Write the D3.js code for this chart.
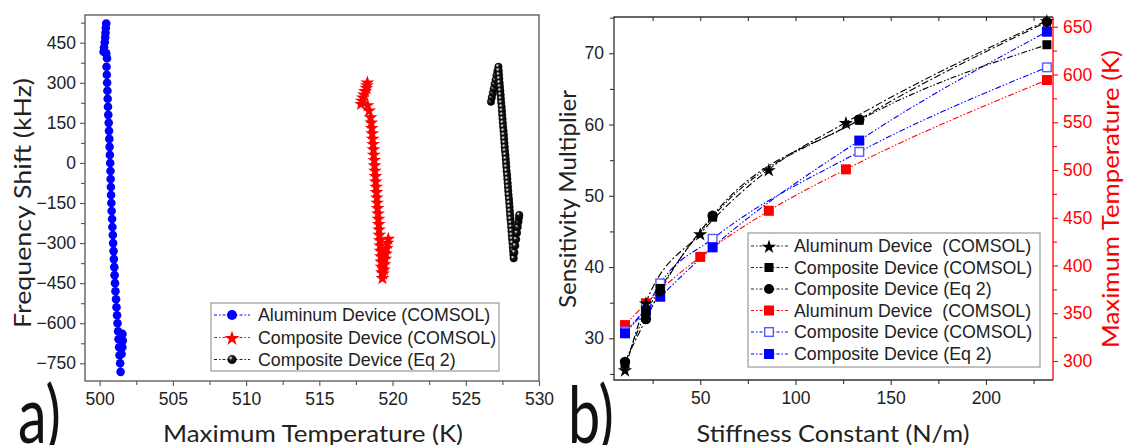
<!DOCTYPE html>
<html><head><meta charset="utf-8">
<script src="https://cdn.jsdelivr.net/npm/d3@7"></script>
<style>body{margin:0;background:#fff}svg{display:block}</style>
</head><body>
<svg id="c" width="1124" height="445"></svg>
<script>
// ---------- Panel a) data ----------
const aXTicks = [500, 505, 510, 515, 520, 525, 530];
const aYTicks = [450, 300, 150, 0, -150, -300, -450, -600, -750];
const alTemp = [500.45, 500.42, 500.40, 500.38, 500.35, 500.30, 500.27, 500.45, 500.50,
  500.47, 500.49, 500.51, 500.53, 500.55, 500.57, 500.59, 500.62, 500.64, 500.66,
  500.68, 500.70, 500.72, 500.74, 500.75, 500.77, 500.78, 500.80, 500.82, 500.85,
  500.87, 500.90, 500.92, 500.95, 500.97, 501.00, 501.02, 501.05, 501.08, 501.12,
  501.15, 501.19, 501.22, 501.26, 501.29, 501.33, 501.36, 501.40, 501.43,
  501.50, 501.55, 501.58, 501.56];
const alFreq = [522, 505, 487, 470, 452, 432, 416, 410, 392,
  360, 330, 300, 270, 240, 210, 180, 150, 120, 90,
  60, 30, 0, -30, -60, -90, -120, -150, -180, -210,
  -240, -270, -300, -330, -360, -390, -420, -450, -480, -510,
  -540, -570, -600, -630, -660, -690, -720, -750, -782,
  -715, -690, -665, -640];
const compTemp = [518.28, 518.25, 518.22, 518.12, 518.05, 517.97, 517.90, 517.85, 518.30, 518.40,
  518.50, 518.55, 518.58, 518.61, 518.64, 518.67, 518.70, 518.72, 518.75, 518.77,
  518.80, 518.83, 518.85, 518.88, 518.90, 518.93, 518.95, 518.98, 519.01, 519.03,
  519.06, 519.08, 519.10, 519.13, 519.15, 519.18, 519.20, 519.23, 519.25, 519.28,
  519.31, 519.36, 519.40, 519.45, 519.50, 519.55, 519.60, 519.66, 519.71];
const compFreq = [300, 290, 280, 268, 255, 244, 232, 220, 215, 195,
  170, 150, 130, 110, 90, 70, 50, 30, 10, -10,
  -30, -50, -70, -90, -110, -130, -150, -170, -190, -210,
  -230, -250, -270, -290, -310, -330, -350, -370, -390, -410,
  -432, -415, -400, -380, -360, -340, -320, -300, -285];
const eqTemp = [526.72, 526.78, 526.85, 526.91, 526.97, 527.04, 527.10, 527.16,
  527.23, 527.25, 527.27, 527.29, 527.31, 527.34, 527.36, 527.38, 527.40, 527.42,
  527.45, 527.47, 527.49, 527.51, 527.53, 527.55, 527.58, 527.60, 527.62, 527.64,
  527.66, 527.68, 527.71, 527.73, 527.75, 527.77, 527.79, 527.82, 527.84, 527.86,
  527.88, 527.90, 527.92, 527.95, 527.97, 527.99, 528.01, 528.03, 528.05, 528.08,
  528.10, 528.12, 528.14, 528.16, 528.19, 528.21, 528.23, 528.25, 528.27,
  528.32, 528.38, 528.44, 528.50, 528.55, 528.60, 528.63, 528.65];
const eqFreq = [229, 245, 262, 278, 295, 311, 328, 344,
  360, 345, 330, 315, 300, 285, 270, 255, 240, 225,
  210, 195, 180, 165, 150, 135, 120, 105, 90, 75,
  60, 45, 30, 15, 0, -15, -30, -45, -60, -75,
  -90, -105, -120, -135, -150, -165, -180, -195, -210, -225,
  -240, -255, -270, -285, -300, -315, -330, -345, -357,
  -335, -310, -286, -262, -240, -220, -205, -195];
const aLegend = ["Aluminum Device (COMSOL)", "Composite Device (COMSOL)", "Composite Device (Eq 2)"];

// ---------- Panel b) data ----------
const bXTicks = [50, 100, 150, 200];
const bYTicks = [30, 40, 50, 60, 70];
const bY2Ticks = [300, 350, 400, 450, 500, 550, 600, 650];
const stiffAl = [10.5, 21.5, 50, 86, 126.5, 232];
const stiffComp = [10.5, 21.5, 29, 56.5, 133.5, 232];
const sensAlComsol = [25.6, 35.0, 44.7, 53.7, 60.3, 74.6];
const sensCompComsol = [26.4, 33.6, 37.0, 47.0, 60.6, 71.2];
const sensCompEq2 = [26.7, 32.7, 36.6, 47.2, 60.7, 74.4];
const tempAlComsol = [337.6, 360.4, 409, 457.3, 500.7, 594.2];
const tempCompComsol = [331, 356, 381.3, 428, 519, 607.5];
const tempCompEq2 = [329, 352.8, 367.3, 419, 530.8, 644.8];
const bLegend = ["Aluminum Device  (COMSOL)", "Composite Device (COMSOL)", "Composite Device (Eq 2)",
  "Aluminum Device  (COMSOL)", "Composite Device (COMSOL)", "Composite Device (Eq 2)"];

const svg = d3.select("#c");
const TICKFONT = "'Liberation Sans', Arial, sans-serif";
const TITLEFONT = "Lato, 'Open Sans', sans-serif";
const BLUE = "#0000ff", RED = "#ff0000";

const defs = svg.append("defs");
const g = defs.append("radialGradient").attr("id", "ball").attr("cx", "35%").attr("cy", "32%").attr("r", "62%");
g.append("stop").attr("offset", "0%").attr("stop-color", "#ffffff");
g.append("stop").attr("offset", "14%").attr("stop-color", "#b0b0b0");
g.append("stop").attr("offset", "38%").attr("stop-color", "#1e1e1e");
g.append("stop").attr("offset", "100%").attr("stop-color", "#000");

function styleAxis(sel, color) {
  sel.select(".domain").remove();
  sel.selectAll(".tick line").attr("stroke", color).attr("stroke-width", 1.1);
  sel.selectAll(".tick text").attr("fill", color === "#333" || color === "#555" ? "#222" : color)
    .style("font-family", TICKFONT).style("font-size", "17.5px");
}
function range(a, b, s) { return d3.range(a, b + s / 2, s); }

// ================= Panel a =================
const xA = d3.scaleLinear().domain([499, 530]).range([85, 539]);
const yA = d3.scaleLinear().domain([-816.2, 553.7]).range([381, 15]);

let ax = svg.append("g").attr("transform", "translate(0,381)")
  .call(d3.axisBottom(xA).tickValues(range(502.5, 527.5, 5)).tickSize(4).tickFormat(""));
styleAxis(ax, "#555");
ax = svg.append("g").attr("transform", "translate(0,381)")
  .call(d3.axisBottom(xA).tickValues(aXTicks).tickSize(5).tickPadding(7).tickFormat(d3.format("d")));
styleAxis(ax, "#555");
ax = svg.append("g").attr("transform", "translate(85,0)")
  .call(d3.axisLeft(yA).tickValues(range(-675, 525, 150)).tickSize(4).tickFormat(""));
styleAxis(ax, "#555");
ax = svg.append("g").attr("transform", "translate(85,0)")
  .call(d3.axisLeft(yA).tickValues(aYTicks).tickSize(5).tickPadding(4).tickFormat(d3.format("d")));
styleAxis(ax, "#555");
svg.append("rect").attr("x", 85).attr("y", 15).attr("width", 454).attr("height", 366)
  .attr("fill", "none").attr("stroke", "#555").attr("stroke-width", 1.3);

const clipA = defs.append("clipPath").attr("id", "clipA");
clipA.append("rect").attr("x", 85).attr("y", 15).attr("width", 454).attr("height", 366);
const pa = svg.append("g").attr("clip-path", "url(#clipA)");

const DASH2 = "6,2,1.5,2,1.5,2";
const lineA = d3.line().x(d => xA(d[0])).y(d => yA(d[1]));
const alPts = d3.zip(alTemp, alFreq), compPts = d3.zip(compTemp, compFreq), eqPts = d3.zip(eqTemp, eqFreq);
pa.append("path").attr("d", lineA(alPts)).attr("fill", "none").attr("stroke", BLUE).attr("stroke-dasharray", DASH2);
pa.append("path").attr("d", lineA(compPts)).attr("fill", "none").attr("stroke", RED).attr("stroke-dasharray", DASH2);
pa.append("path").attr("d", lineA(eqPts)).attr("fill", "none").attr("stroke", "#000").attr("stroke-dasharray", DASH2);

const starA = d3.symbol(d3.symbolStar, 60)();
const starB = d3.symbol(d3.symbolStar, 62)();

pa.selectAll(".al").data(alPts).join("circle").attr("cx", d => xA(d[0])).attr("cy", d => yA(d[1]))
  .attr("r", 4.3).attr("fill", BLUE);
pa.selectAll(".cp").data(compPts).join("path").attr("d", starA)
  .attr("transform", d => `translate(${xA(d[0])},${yA(d[1])})`).attr("fill", RED);
pa.selectAll(".eq").data(eqPts).join("circle").attr("cx", d => xA(d[0])).attr("cy", d => yA(d[1]))
  .attr("r", 3.7).attr("fill", "url(#ball)").attr("stroke", "#000").attr("stroke-width", 0.6);

// legend a
svg.append("rect").attr("x", 211).attr("y", 303).attr("width", 288).attr("height", 68)
  .attr("fill", "#fff").attr("stroke", "#999").attr("stroke-width", 1.2);
const aRows = [315, 337.5, 359.5];
const aColors = [BLUE, RED, "#222"];
aLegend.forEach((t, i) => {
  const y = aRows[i];
  svg.append("line").attr("x1", 214).attr("x2", 250).attr("y1", y).attr("y2", y)
    .attr("stroke", aColors[i]).attr("stroke-width", 1).attr("stroke-dasharray", "3,2,1.5,2");
  if (i === 0) svg.append("circle").attr("cx", 232).attr("cy", y).attr("r", 5).attr("fill", BLUE);
  if (i === 1) svg.append("path").attr("d", d3.symbol(d3.symbolStar, 70)()).attr("transform", `translate(232,${y + 1})`).attr("fill", RED);
  if (i === 2) svg.append("circle").attr("cx", 232).attr("cy", y).attr("r", 4.3).attr("fill", "url(#ball)").attr("stroke", "#000").attr("stroke-width", 0.5);
  svg.append("text").attr("x", 258).attr("y", y + 6.3).text(t)
    .style("font-family", TICKFONT).style("font-size", "17.8px").attr("fill", "#222");
});

// titles a
svg.append("text").attr("transform", "translate(31,203) rotate(-90)").attr("text-anchor", "middle")
  .attr("textLength", 250).attr("lengthAdjust", "spacingAndGlyphs")
  .style("font-family", TITLEFONT).style("font-size", "24px").attr("fill", "#222").text("Frequency Shift (kHz)");
svg.append("text").attr("x", 313).attr("y", 442).attr("text-anchor", "middle")
  .attr("textLength", 300).attr("lengthAdjust", "spacingAndGlyphs")
  .style("font-family", TITLEFONT).style("font-size", "24px").attr("fill", "#222").text("Maximum Temperature (K)");
svg.append("text").attr("transform", "translate(18,443) scale(0.72,1)")
  .style("font-family", TITLEFONT).style("font-size", "80px").attr("fill", "#111").text("a)");

// ================= Panel b =================
const xB = d3.scaleLinear().domain([4.72, 235.2]).range([614, 1053]);
const yB = d3.scaleLinear().domain([24.15, 75.09]).range([380, 17]);
const yB2 = d3.scaleLinear().domain([280.1, 660.2]).range([380, 17]);

ax = svg.append("g").attr("transform", "translate(0,380)")
  .call(d3.axisBottom(xB).tickValues([25, 75, 125, 175, 225]).tickSize(4).tickFormat(""));
styleAxis(ax, "#333");
ax = svg.append("g").attr("transform", "translate(0,380)")
  .call(d3.axisBottom(xB).tickValues(bXTicks).tickSize(5).tickPadding(7).tickFormat(d3.format("d")));
styleAxis(ax, "#333");
ax = svg.append("g").attr("transform", "translate(0,17)")
  .call(d3.axisBottom(xB).tickValues([25, 50, 75, 100, 125, 150, 175, 200, 225]).tickSize(4).tickFormat(""));
styleAxis(ax, "#333");
ax = svg.append("g").attr("transform", "translate(614,0)")
  .call(d3.axisLeft(yB).tickValues([25, 35, 45, 55, 65, 75]).tickSize(4).tickFormat(""));
styleAxis(ax, "#333");
ax = svg.append("g").attr("transform", "translate(614,0)")
  .call(d3.axisLeft(yB).tickValues(bYTicks).tickSize(5).tickPadding(5).tickFormat(d3.format("d")));
styleAxis(ax, "#333");
ax = svg.append("g").attr("transform", "translate(1053,0)")
  .call(d3.axisRight(yB2).tickValues(range(325, 625, 50)).tickSize(4).tickFormat(""));
styleAxis(ax, RED);
ax = svg.append("g").attr("transform", "translate(1053,0)")
  .call(d3.axisRight(yB2).tickValues(bY2Ticks).tickSize(5).tickPadding(5).tickFormat(d3.format("d")));
styleAxis(ax, RED);

svg.append("path").attr("d", "M1053,17H614V380H1053").attr("fill", "none").attr("stroke", "#333").attr("stroke-width", 1.3);
svg.append("line").attr("x1", 1053).attr("x2", 1053).attr("y1", 17).attr("y2", 380).attr("stroke", RED).attr("stroke-width", 1.3);

const pb = svg.append("g");
const curve = d3.curveMonotoneX;
const lineS = (xs, ys, sc) => d3.line().curve(curve).x(d => xB(d[0])).y(d => sc(d[1]))(d3.zip(xs, ys));
const DASH1 = "7,2.5,2,2.5";
pb.append("path").attr("d", lineS(stiffAl, tempAlComsol, yB2)).attr("fill", "none").attr("stroke", RED).attr("stroke-width", 1.1).attr("stroke-dasharray", DASH2);
pb.append("path").attr("d", lineS(stiffComp, tempCompComsol, yB2)).attr("fill", "none").attr("stroke", BLUE).attr("stroke-width", 1.1).attr("stroke-dasharray", DASH2);
pb.append("path").attr("d", lineS(stiffComp, tempCompEq2, yB2)).attr("fill", "none").attr("stroke", BLUE).attr("stroke-width", 1.1).attr("stroke-dasharray", DASH2);
pb.append("path").attr("d", lineS(stiffComp, sensCompComsol, yB)).attr("fill", "none").attr("stroke", "#000").attr("stroke-width", 1.1).attr("stroke-dasharray", DASH2);
pb.append("path").attr("d", lineS(stiffComp, sensCompEq2, yB)).attr("fill", "none").attr("stroke", "#000").attr("stroke-width", 1.1).attr("stroke-dasharray", DASH1);
pb.append("path").attr("d", lineS(stiffAl, sensAlComsol, yB)).attr("fill", "none").attr("stroke", "#000").attr("stroke-width", 1.1).attr("stroke-dasharray", DASH1);

const sq = 10;
pb.selectAll(".rs").data(d3.zip(stiffAl, tempAlComsol)).join("rect")
  .attr("x", d => xB(d[0]) - sq / 2).attr("y", d => yB2(d[1]) - sq / 2).attr("width", sq).attr("height", sq).attr("fill", RED);
pb.selectAll(".bo").data(d3.zip(stiffComp, tempCompComsol)).join("rect")
  .attr("x", d => xB(d[0]) - 4.3).attr("y", d => yB2(d[1]) - 4.3).attr("width", 8.6).attr("height", 8.6)
  .attr("fill", "#fff").attr("stroke", "#5a5aff").attr("stroke-width", 1.4);
pb.selectAll(".bf").data(d3.zip(stiffComp, tempCompEq2)).join("rect")
  .attr("x", d => xB(d[0]) - sq / 2).attr("y", d => yB2(d[1]) - sq / 2).attr("width", sq).attr("height", sq).attr("fill", BLUE);
pb.selectAll(".ks").data(d3.zip(stiffComp, sensCompComsol)).join("rect")
  .attr("x", d => xB(d[0]) - 4.5).attr("y", d => yB(d[1]) - 4.5).attr("width", 9).attr("height", 9).attr("fill", "#000");
pb.selectAll(".kc").data(d3.zip(stiffComp, sensCompEq2)).join("circle")
  .attr("cx", d => xB(d[0])).attr("cy", d => yB(d[1])).attr("r", 5.2).attr("fill", "#000");
pb.selectAll(".kst").data(d3.zip(stiffAl, sensAlComsol)).join("path").attr("d", starB)
  .attr("transform", d => `translate(${xB(d[0])},${yB(d[1]) + 1})`).attr("fill", "#000");

// legend b
svg.append("rect").attr("x", 748).attr("y", 233).attr("width", 292).attr("height", 134)
  .attr("fill", "#fff").attr("stroke", "#999").attr("stroke-width", 1.2);
const bRows = [246, 267.5, 289, 310.5, 332, 354];
const bColors = ["#222", "#222", "#222", RED, BLUE, BLUE];
bLegend.forEach((t, i) => {
  const y = bRows[i];
  svg.append("line").attr("x1", 751).attr("x2", 788).attr("y1", y).attr("y2", y)
    .attr("stroke", bColors[i]).attr("stroke-width", 1).attr("stroke-dasharray", "3,2,1.5,2");
  const cx = 769;
  if (i === 0) svg.append("path").attr("d", starB).attr("transform", `translate(${cx},${y + 1})`).attr("fill", "#000");
  if (i === 1) svg.append("rect").attr("x", cx - 4.5).attr("y", y - 4.5).attr("width", 9).attr("height", 9).attr("fill", "#000");
  if (i === 2) svg.append("circle").attr("cx", cx).attr("cy", y).attr("r", 5).attr("fill", "#000");
  if (i === 3) svg.append("rect").attr("x", cx - 5).attr("y", y - 5).attr("width", 10).attr("height", 10).attr("fill", RED);
  if (i === 4) svg.append("rect").attr("x", cx - 4.3).attr("y", y - 4.3).attr("width", 8.6).attr("height", 8.6).attr("fill", "#fff").attr("stroke", "#5a5aff").attr("stroke-width", 1.4);
  if (i === 5) svg.append("rect").attr("x", cx - 5).attr("y", y - 5).attr("width", 10).attr("height", 10).attr("fill", BLUE);
  svg.append("text").attr("x", 794).attr("y", y + 6.3).text(t).attr("xml:space", "preserve").style("white-space", "pre")
    .style("font-family", TICKFONT).style("font-size", "17.8px").attr("fill", "#222");
});

// titles b
svg.append("text").attr("transform", "translate(576,199) rotate(-90)").attr("text-anchor", "middle")
  .attr("textLength", 218).attr("lengthAdjust", "spacingAndGlyphs")
  .style("font-family", TITLEFONT).style("font-size", "24px").attr("fill", "#222").text("Sensitivity Multiplier");
svg.append("text").attr("transform", "translate(1119,199) rotate(-90)").attr("text-anchor", "middle")
  .attr("textLength", 298).attr("lengthAdjust", "spacingAndGlyphs")
  .style("font-family", TITLEFONT).style("font-size", "24px").attr("fill", RED).text("Maximum Temperature (K)");
svg.append("text").attr("x", 833).attr("y", 442).attr("text-anchor", "middle")
  .attr("textLength", 273).attr("lengthAdjust", "spacingAndGlyphs")
  .style("font-family", TITLEFONT).style("font-size", "24px").attr("fill", "#222").text("Stiffness Constant (N/m)");
svg.append("text").attr("transform", "translate(568,443) scale(0.72,1)")
  .style("font-family", TITLEFONT).style("font-size", "80px").attr("fill", "#111").text("b)");
</script></body></html>
